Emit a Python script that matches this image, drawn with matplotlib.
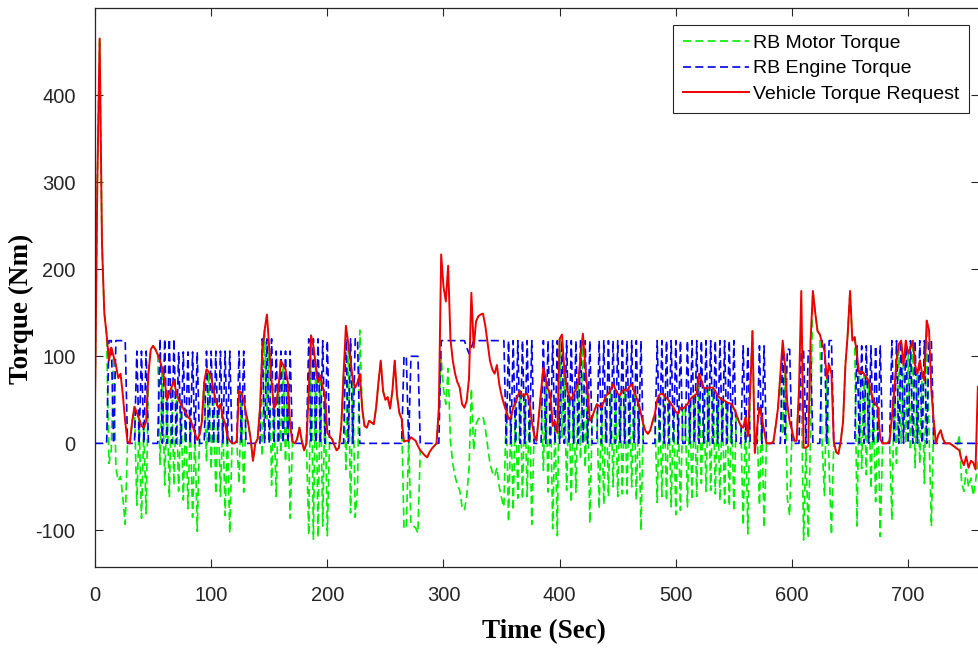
import numpy as np
import matplotlib
matplotlib.use("Agg")
import matplotlib.pyplot as plt
from matplotlib import font_manager

# ---------------- data (2 s sampling, 0..760 s) ----------------
time_start, time_stop, time_step = 0, 760, 2

vehicle_torque_request = [
    45, 300, 465, 230, 150, 125, 95, 110, 100, 90,
    75, 80, 55, 25, 2, 0, 25, 42, 35, 28,
    20, 18, 25, 80, 108, 112, 108, 102, 95, 85,
    72, 50, 58, 65, 72, 58, 50, 45, 40, 35,
    30, 28, 20, 12, 4, 10, 25, 70, 85, 82,
    76, 62, 48, 41, 45, 30, 23, 8, 3, 0,
    0, 3, 60, 58, 50, 35, 22, 5, -20, 0,
    5, 40, 105, 130, 148, 110, 72, 40, 45, 65,
    95, 90, 85, 70, 20, 2, 0, 5, 18, 3,
    -8, 0, 60, 124, 112, 90, 70, 78, 65, 55,
    12, 8, 5, -2, -8, -5, 20, 80, 135, 115,
    95, 72, 64, 70, 80, 40, 20, 18, 26, 24,
    22, 41, 70, 95, 60, 50, 53, 40, 60, 95,
    55, 35, 28, 2, 3, 3, 7, 5, 3, -3,
    -8, -11, -14, -16, -10, -6, -3, 0, 40, 217,
    180, 163, 204, 120, 95, 80, 70, 64, 45, 41,
    49, 75, 173, 110, 140, 146, 148, 149, 135, 115,
    95, 85, 80, 90, 68, 55, 45, 38, 28, 30,
    41, 47, 55, 60, 54, 56, 57, 49, 25, 10,
    3, 30, 60, 87, 75, 62, 57, 20, 25, 12,
    120, 125, 85, 64, 55, 50, 57, 62, 70, 100,
    126, 90, 60, 26, 30, 38, 45, 43, 41, 48,
    55, 57, 62, 68, 62, 57, 55, 60, 62, 60,
    65, 68, 60, 53, 45, 34, 22, 14, 11, 15,
    25, 34, 50, 56, 57, 55, 52, 49, 45, 41,
    36, 34, 41, 40, 42, 45, 50, 53, 55, 57,
    80, 72, 64, 63, 64, 64, 64, 60, 55, 52,
    50, 49, 47, 46, 45, 40, 34, 26, 20, 18,
    30, 8, 60, 129, -11, 18, 41, 30, 15, 0,
    0, 0, 2, 20, 41, 80, 118, 90, 45, 25,
    15, 3, 3, 60, 175, -5, -5, -3, 118, 175,
    150, 129, 125, 115, 106, 75, 90, 80, 2, -10,
    -12, 3, 25, 90, 126, 175, 118, 122, 100, 80,
    83, 80, 76, 72, 60, 50, 45, 41, 5, 0,
    0, 0, 3, 30, 60, 95, 114, 118, 90, 118,
    103, 110, 118, 90, 80, 95, 80, 72, 141, 130,
    60, 26, 0, 10, 15, 5, 0, 0, 0, -2,
    -4, -6, -8, -19, -25, -15, -28, -20, -22, -30,
    65,
]

rb_engine_torque = [
    0, 0, 0, 0, 0, 0, 118, 118, 0, 118,
    118, 118, 118, 118, 0, 0, 0, 0, 106, 0,
    106, 0, 106, 0, 0, 0, 0, 0, 120, 0,
    120, 0, 120, 0, 120, 0, 105, 0, 105, 0,
    105, 0, 105, 0, 105, 0, 0, 0, 106, 0,
    106, 0, 106, 0, 106, 0, 106, 0, 106, 0,
    0, 0, 106, 0, 106, 0, 0, 0, 0, 0,
    0, 0, 120, 0, 120, 0, 120, 0, 106, 0,
    106, 0, 106, 0, 106, 0, 0, 0, 0, 0,
    0, 0, 120, 0, 120, 0, 120, 0, 118, 0,
    118, 0, 0, 0, 0, 0, 0, 0, 120, 0,
    120, 0, 120, 120, 0, 0, 0, 0, 0, 0,
    0, 0, 0, 0, 0, 0, 0, 0, 0, 0,
    0, 0, 0, 100, 100, 0, 100, 100, 100, 100,
    0, 0, 0, 0, 0, 0, 0, 0, 0, 118,
    118, 118, 118, 118, 118, 118, 118, 118, 118, 118,
    110, 103, 110, 118, 118, 118, 118, 118, 118, 118,
    118, 118, 118, 118, 118, 118, 118, 0, 118, 0,
    118, 0, 118, 0, 118, 0, 118, 0, 118, 0,
    0, 0, 0, 118, 0, 118, 0, 118, 0, 118,
    0, 118, 0, 118, 0, 118, 0, 118, 0, 118,
    0, 118, 0, 118, 0, 0, 0, 118, 0, 118,
    0, 118, 0, 118, 0, 118, 0, 118, 0, 118,
    0, 118, 0, 118, 0, 118, 0, 0, 0, 0,
    0, 0, 118, 0, 118, 0, 118, 0, 118, 0,
    118, 0, 118, 0, 0, 118, 0, 118, 0, 118,
    0, 118, 0, 118, 0, 118, 0, 118, 0, 118,
    0, 118, 0, 118, 0, 118, 0, 0, 0, 112,
    0, 112, 0, 0, 0, 0, 112, 0, 112, 0,
    0, 0, 0, 0, 0, 0, 108, 0, 108, 108,
    0, 0, 0, 0, 106, 106, 0, 106, 106, 0,
    0, 0, 0, 118, 118, 0, 118, 118, 0, 0,
    0, 0, 0, 0, 0, 0, 0, 0, 112, 0,
    112, 0, 112, 0, 112, 0, 112, 0, 112, 0,
    0, 0, 0, 118, 0, 118, 0, 118, 0, 118,
    0, 118, 0, 118, 0, 118, 0, 118, 0, 118,
    118, 0, 0, 0, 0, 0, 0, 0, 0, 0,
    0, 0, 0, 0, 0, 0, 0, 0, 0, 0,
    0,
]

rb_motor_torque = [
    45, 300, 465, 230, 150, 125, -23, -8, 100, -28,
    -43, -38, -63, -93, 2, 0, 25, 42, -71, 28,
    -86, 18, -81, 80, 108, 112, 108, 102, -25, 85,
    -48, 50, -62, 65, -48, 58, -55, 45, -65, 35,
    -75, 28, -85, 12, -101, 10, 25, 70, -21, 82,
    -30, 62, -58, 41, -61, 30, -83, 8, -103, 0,
    0, 3, -46, 58, -56, 35, 22, 5, -20, 0,
    5, 40, -15, 130, 28, 110, -48, 40, -61, 65,
    -11, 90, -21, 70, -86, 2, 0, 5, 18, 3,
    -8, 0, -105, 124, -110, 90, -108, 78, -95, 55,
    -106, 8, 5, -2, -8, -5, 20, 80, -30, 115,
    -80, 72, -85, -50, 130, 40, 20, 18, 26, 24,
    22, 41, 70, 95, 60, 50, 53, 40, 60, 95,
    55, 35, 28, -98, -97, 3, -93, -95, -97, -103,
    -8, -11, -14, -16, -10, -6, -3, 0, 40, 99,
    62, 45, 86, 2, -23, -38, -48, -54, -73, -77,
    -61, -28, 63, -8, 22, 28, 30, 31, 17, -3,
    -23, -33, -38, -28, -50, -63, -73, 38, -90, 30,
    -77, 47, -63, 60, -64, 56, -61, 49, -93, 10,
    3, 30, 60, -31, 75, -56, 57, -98, 25, -106,
    120, 7, 85, -54, 55, -68, 57, -56, 70, -18,
    126, -28, 60, -92, 30, 38, 45, -75, 41, -70,
    55, -61, 62, -50, 62, -61, 55, -58, 62, -58,
    65, -50, 60, -65, 45, -100, 22, 14, 11, 15,
    25, 34, -68, 56, -61, 55, -66, 49, -73, 41,
    -82, 34, -77, 40, 42, -73, 50, -65, 55, -61,
    80, -46, 64, -55, 64, -54, 64, -58, 55, -66,
    50, -69, 47, -72, 45, -78, 34, 26, 20, -94,
    30, -104, 60, 129, -11, 18, -71, 30, -97, 0,
    0, 0, 2, 20, 41, 80, 10, 90, -63, -83,
    15, 3, 3, 60, 69, -111, -5, -109, 12, 175,
    150, 129, 125, -3, -60, 75, -28, -105, 2, -10,
    -12, 3, 25, 90, 126, 175, 118, 122, -95, 80,
    -29, 80, -36, 72, -52, 50, -67, 41, -107, 0,
    0, 0, 3, -88, 60, -23, 114, 0, 90, 0,
    103, -8, 118, -28, 80, -23, 80, -46, 141, 12,
    -95, 26, 0, 10, 15, 5, 0, 0, 0, -2,
    -4, -6, 10, -45, -55, -30, -50, -40, -60, -45,
    -20,
]

series_labels = ["RB Motor Torque", "RB Engine Torque", "Vehicle Torque Request"]
x_ticks = [0, 100, 200, 300, 400, 500, 600, 700]
y_ticks = [-100, 0, 100, 200, 300, 400]
x_label = "Time (Sec)"
y_label = "Torque (Nm)"

# ---------------- fonts ----------------
available = {f.name for f in font_manager.fontManager.ttflist}
tick_family = "Liberation Sans Narrow" if "Liberation Sans Narrow" in available else "Liberation Sans"
tick_size = 17 if tick_family == "Liberation Sans Narrow" else 14.5

t = np.arange(time_start, time_stop + time_step, time_step)

fig = plt.figure(figsize=(9.79, 6.53), dpi=100)
ax = fig.add_axes([95 / 979, 86 / 653, 884 / 979, 559 / 653])

dash = (0, (4.8, 2.6))
ax.plot(t, rb_motor_torque, color="#00ee00", lw=1.2, linestyle=dash, label=series_labels[0])
ax.plot(t, rb_engine_torque, color="#0000ee", lw=1.2, linestyle=dash, label=series_labels[1])
ax.plot(t, vehicle_torque_request, color="#ee0000", lw=1.4, linestyle="-", label=series_labels[2])

ax.set_xlim(0, 761)
ax.set_ylim(-142, 500)
ax.set_xticks(x_ticks)
ax.set_yticks(y_ticks)
ax.set_xticklabels([str(v) for v in x_ticks], fontfamily=tick_family, fontsize=tick_size, color="#262626")
ax.set_yticklabels([str(v) for v in y_ticks], fontfamily=tick_family, fontsize=tick_size, color="#262626")
ax.tick_params(direction="in", length=6, width=0.8, top=True, right=True, colors="#262626")
ax.tick_params(axis="x", pad=14)
ax.tick_params(axis="y", pad=14)
for sp in ax.spines.values():
    sp.set_linewidth(0.9)
    sp.set_color("#262626")

ax.set_xlabel(x_label, fontfamily="Liberation Serif", fontweight="bold", fontsize=19.5)
ax.set_ylabel(y_label, fontfamily="Liberation Serif", fontweight="bold", fontsize=19.5)
ax.xaxis.set_label_coords(0.508, -0.094)
ax.yaxis.set_label_coords(-0.069, 0.462)

leg = ax.legend(loc="upper right", bbox_to_anchor=(0.989, 0.97), fancybox=False, framealpha=1,
                edgecolor="#262626", prop={"family": "Liberation Sans", "size": 14},
                handlelength=3.4, handletextpad=0.2, borderpad=0.5, labelspacing=0.4,
                borderaxespad=0)
leg.get_frame().set_linewidth(0.8)

fig.savefig("out.png", dpi=100)
